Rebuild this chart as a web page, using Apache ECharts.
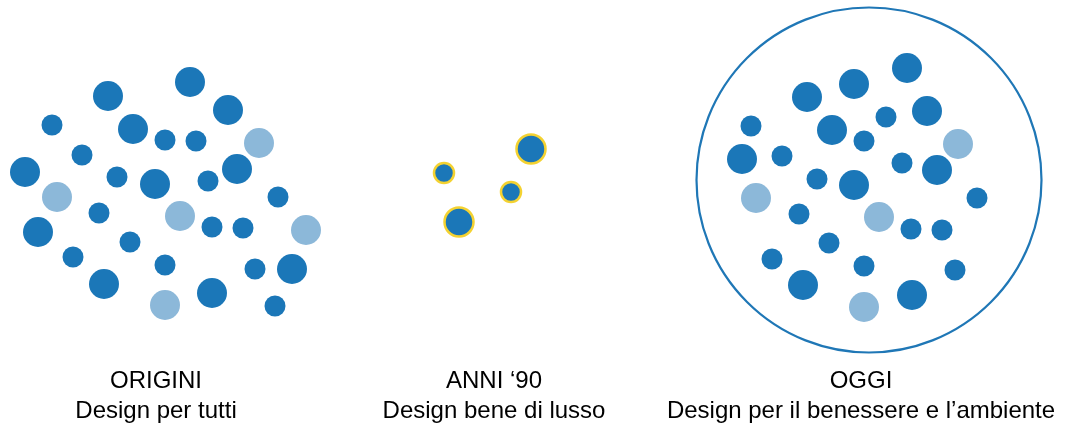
<!DOCTYPE html>
<html>
<head>
<meta charset="utf-8">
<script src="https://cdn.jsdelivr.net/npm/echarts@6/dist/echarts.min.js"></script>
<style>
  html, body { margin: 0; padding: 0; background: #fff; }
  #chart { width: 1076px; height: 430px; }
</style>
</head>
<body>
<div id="chart"></div>
<script>
// [x, y, grande(1)/piccolo(0)]
const originiDark = [
  [108, 96, 1], [190, 82, 1], [228, 110, 1], [52, 125, 0], [133, 129, 1],
  [165, 140, 0], [196, 141, 0], [82, 155, 0], [25, 172, 1], [117, 177, 0],
  [155, 184, 1], [208, 181, 0], [237, 169, 1], [278, 197, 0], [99, 213, 0],
  [212, 227, 0], [243, 228, 0], [38, 232, 1], [130, 242, 0], [73, 257, 0],
  [165, 265, 0], [255, 269, 0], [292, 269, 1], [104, 284, 1], [212, 293, 1],
  [275, 306, 0]
]
const originiLight = [
  [259, 143, 1], [57, 197, 1], [180, 216, 1], [306, 230, 1], [165, 305, 1]
]
const anni90 = [
  [531, 149, 1], [444, 173, 0], [511, 192, 0], [459, 222, 1]
]
const oggiDark = [
  [807, 97, 1], [854, 84, 1], [907, 68, 1], [927, 111, 1], [886, 117, 0],
  [751, 126, 0], [832, 130, 1], [864, 141, 0], [742, 159, 1], [782, 156, 0],
  [902, 163, 0], [937, 170, 1], [817, 179, 0], [854, 185, 1], [977, 198, 0],
  [799, 214, 0], [911, 229, 0], [942, 230, 0], [829, 243, 0], [772, 259, 0],
  [864, 266, 0], [955, 270, 0], [803, 285, 1], [912, 295, 1]
]
const oggiLight = [
  [958, 144, 1], [756, 198, 1], [879, 217, 1], [864, 307, 1]
]
const oggiRing = [[869, 180]]
const titles = ['ORIGINI', 'ANNI \u201890', 'OGGI']
const subtitles = ['Design per tutti', 'Design bene di lusso', 'Design per il benessere e l\u2019ambiente']
const titleX = [156, 494, 861]

const DARK = '#1b77b8'
const LIGHT = '#8cb8d9'
const FONT = '"Liberation Sans", Arial, sans-serif'

const chart = echarts.init(document.getElementById('chart'))

const dotSize = (v) => (v[2] ? 30 : 21)
const luxSize = (v) => (v[2] ? 29 : 20)

const textData = []
titles.forEach((t, i) => {
  textData.push({ value: [titleX[i], 381], label: { formatter: t } })
  textData.push({ value: [titleX[i], 411], label: { formatter: subtitles[i] } })
})

chart.setOption({
  animation: false,
  grid: { left: 0, right: 0, top: 0, bottom: 0 },
  xAxis: { type: 'value', min: 0, max: 1076, show: false },
  yAxis: { type: 'value', min: 0, max: 430, inverse: true, show: false },
  series: [
    {
      type: 'scatter',
      data: oggiRing,
      symbolSize: 345,
      itemStyle: { color: 'transparent', borderColor: '#1f77b6', borderWidth: 2.2, opacity: 1 },
      silent: true
    },
    {
      type: 'scatter',
      data: originiDark.concat(oggiDark),
      symbolSize: dotSize,
      itemStyle: { color: DARK, opacity: 1 }
    },
    {
      type: 'scatter',
      data: originiLight.concat(oggiLight),
      symbolSize: dotSize,
      itemStyle: { color: LIGHT, opacity: 1 }
    },
    {
      type: 'scatter',
      data: anni90,
      symbolSize: luxSize,
      itemStyle: { color: DARK, opacity: 1, borderColor: '#f4d231', borderWidth: 2.5 }
    },
    {
      type: 'scatter',
      data: textData,
      symbolSize: 0,
      silent: true,
      itemStyle: { opacity: 1 },
      label: {
        show: true,
        position: 'inside',
        color: '#000',
        fontFamily: FONT,
        fontSize: 24
      }
    }
  ]
})
</script>
</body>
</html>
